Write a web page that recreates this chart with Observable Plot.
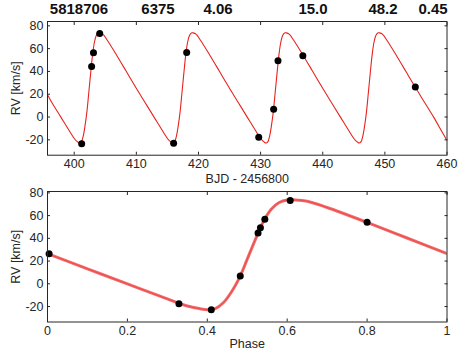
<!DOCTYPE html>
<html><head><meta charset="utf-8">
<script src="https://cdn.jsdelivr.net/npm/d3@7"></script>
<script src="https://cdn.jsdelivr.net/npm/@observablehq/plot@0.6"></script>
<style>
body{margin:0;background:#fff;}
#wrap{position:relative;width:471px;height:353px;font-family:"Liberation Sans",Arial,sans-serif;overflow:hidden;}
#wrap svg{position:absolute;left:0;}
.ttl{position:absolute;top:0px;font-weight:bold;font-size:15px;line-height:18px;color:#111;transform:translateX(-50%);white-space:nowrap;}
</style></head><body><div id="wrap"></div>
<script>
// Header values (bold row above the top panel)
const headerLabels = ["5818706", "6375", "4.06", "15.0", "48.2", "0.45"];

// Observations: time (BJD - 2456800), RV (km/s)
const obsTime = [401.2, 402.8, 403.1, 404.1, 416.0, 418.1, 429.7, 432.1, 432.8, 436.8, 454.9];
const obsRV   = [-23.5, 44.4, 56.4, 73.3, -23.0, 56.6, -17.7, 6.8, 49.4, 53.8, 26.4];

// Phase-folded observations
const obsPhase   = [0.004, 0.329, 0.41, 0.4825, 0.527, 0.533, 0.544, 0.6075, 0.8];
const obsPhaseRV = [26.5, -17.6, -22.9, 6.8, 44.7, 49.4, 56.8, 73.3, 54.1];

// Model curve
const modelTime = [
  395.7, 396.35, 397.85, 399.35, 400.1, 400.55, 400.85, 401.15, 401.45, 401.75, 402.05, 402.35, 402.65, 402.95, 403.25, 403.55, 403.85, 404.15, 404.6, 405.35, 406.85, 408.35, 409.85,
  411.35, 412.85, 414.35, 415.1, 415.55, 415.85, 416.15, 416.45, 416.75, 417.05, 417.35, 417.65, 417.95, 418.25, 418.55, 418.85, 419.15, 419.6, 420.35, 421.85, 423.35, 424.85,
  426.35, 427.85, 429.35, 430.1, 430.55, 430.85, 431.15, 431.45, 431.75, 432.05, 432.35, 432.65, 432.95, 433.25, 433.55, 433.85, 434.15, 434.6, 435.35, 436.85, 438.35, 439.85,
  441.35, 442.85, 444.35, 445.1, 445.55, 445.85, 446.15, 446.45, 446.75, 447.05, 447.35, 447.65, 447.95, 448.25, 448.55, 448.85, 449.15, 449.6, 450.35, 451.85, 453.35, 454.85,
  456.35, 457.85, 459.35, 460.0
];
const modelRV = [
  19.5, 13.2, -0.1, -13.3, -19.5, -21.8, -22.8, -21.8, -16.7, -7.4, 5.0, 21.7, 38.7, 54.5, 65.6, 71.5, 73.7, 73.8, 72.7, 67.1, 54.0, 40.3, 26.5,
  13.2, -0.1, -13.3, -19.5, -21.8, -22.8, -21.8, -16.7, -7.4, 5.0, 21.7, 38.7, 54.5, 65.6, 71.5, 73.7, 73.8, 72.7, 67.1, 54.0, 40.3, 26.5,
  13.2, -0.1, -13.3, -19.5, -21.8, -22.8, -21.8, -16.7, -7.4, 5.0, 21.7, 38.7, 54.5, 65.6, 71.5, 73.7, 73.8, 72.7, 67.1, 54.0, 40.3, 26.5,
  13.2, -0.1, -13.3, -19.5, -21.8, -22.8, -21.8, -16.7, -7.4, 5.0, 21.7, 38.7, 54.5, 65.6, 71.5, 73.7, 73.8, 72.7, 67.1, 54.0, 40.3, 26.5,
  13.2, -0.1, -14.5, -20.5
];

// Model curve
const modelPhase   = [0, 0.1, 0.2, 0.3, 0.35, 0.38, 0.40, 0.42, 0.44, 0.46, 0.48, 0.50, 0.52, 0.54, 0.56, 0.58, 0.60, 0.62, 0.65, 0.70, 0.80, 0.90, 1.0];
const modelPhaseRV = [26.5, 13.2, -0.1, -13.3, -19.5, -21.8, -22.8, -21.8, -16.7, -7.4, 5.0, 21.7, 38.7, 54.5, 65.6, 71.5, 73.7, 73.8, 72.7, 67.1, 54.0, 40.3, 26.5];

// Tick values
const timeTicks  = [400, 410, 420, 430, 440, 450, 460];
const phaseTicks = [0, 0.2, 0.4, 0.6, 0.8, 1];
const rvTicks    = [-20, 0, 20, 40, 60, 80];

// ---- layout / style ----
const headerX = [79, 158, 218, 313, 383, 433];
const INK = "#262626";
const FONT = "'Liberation Sans', Arial, sans-serif";
const fmt = d => String(d);

const obs = obsTime.map((t, i) => ({t, rv: obsRV[i]}));
const obsP = obsPhase.map((p, i) => ({p, rv: obsPhaseRV[i]}));
const model = modelTime.map((t, i) => ({t, rv: modelRV[i]}));
const modelP = modelPhase.map((p, i) => ({p, rv: modelPhaseRV[i]}));

function axes(xTicks, xLabel, xOff, yOff) {
  return [
    Plot.axisX(xTicks, {anchor: "bottom", tickSize: -3, tickPadding: 7, tickFormat: fmt,
      label: xLabel, labelAnchor: "center", labelArrow: "none", labelOffset: xOff}),
    Plot.axisX(xTicks, {anchor: "top", tickSize: -3, tickFormat: () => "", label: null}),
    Plot.axisY(rvTicks, {anchor: "left", tickSize: -3, tickPadding: 7, tickFormat: fmt,
      label: "RV [km/s]", labelAnchor: "center", labelArrow: "none", labelOffset: yOff}),
    Plot.axisY(rvTicks, {anchor: "right", tickSize: -3, tickFormat: () => "", label: null}),
    Plot.frame({stroke: INK, strokeWidth: 1})
  ];
}

const style = {fontFamily: FONT, fontSize: "12.5px", color: INK, background: "transparent", overflow: "visible"};

const topPlot = Plot.plot({
  width: 471, height: 188,
  marginLeft: 47, marginRight: 24.5, marginTop: 21, marginBottom: 33.3,
  x: {domain: [395.7, 460]},
  y: {domain: [-33.5, 83.8]},
  style,
  marks: [
    Plot.line(model, {x: "t", y: "rv", stroke: "#e8231f", strokeWidth: 1.1, curve: "catmull-rom", clip: true}),
    Plot.dot(obs, {x: "t", y: "rv", r: 3.5, fill: "#000", stroke: "none"}),
    ...axes(timeTicks, "BJD - 2456800", 28, 36)
  ]
});
topPlot.style.top = "0px";

const botPlot = Plot.plot({
  width: 471, height: 165,
  marginLeft: 47, marginRight: 24.5, marginTop: 3, marginBottom: 31.5,
  x: {domain: [0, 1]},
  y: {domain: [-33.6, 81.2]},
  style,
  marks: [
    Plot.line(modelP, {x: "p", y: "rv", stroke: "#f26a6a", strokeWidth: 3, curve: "catmull-rom", clip: true}),
    Plot.line(modelP, {x: "p", y: "rv", stroke: "#ec4b4b", strokeWidth: 1, curve: "catmull-rom", clip: true}),
    Plot.dot(obsP, {x: "p", y: "rv", r: 3.5, fill: "#000", stroke: "none"}),
    ...axes(phaseTicks, "Phase", 26, 36)
  ]
});
botPlot.style.top = "188px";

const wrap = document.getElementById("wrap");
wrap.appendChild(topPlot);
wrap.appendChild(botPlot);
headerLabels.forEach((s, i) => {
  const d = document.createElement("div");
  d.className = "ttl";
  d.style.left = headerX[i] + "px";
  d.textContent = s;
  wrap.appendChild(d);
});
</script></body></html>
